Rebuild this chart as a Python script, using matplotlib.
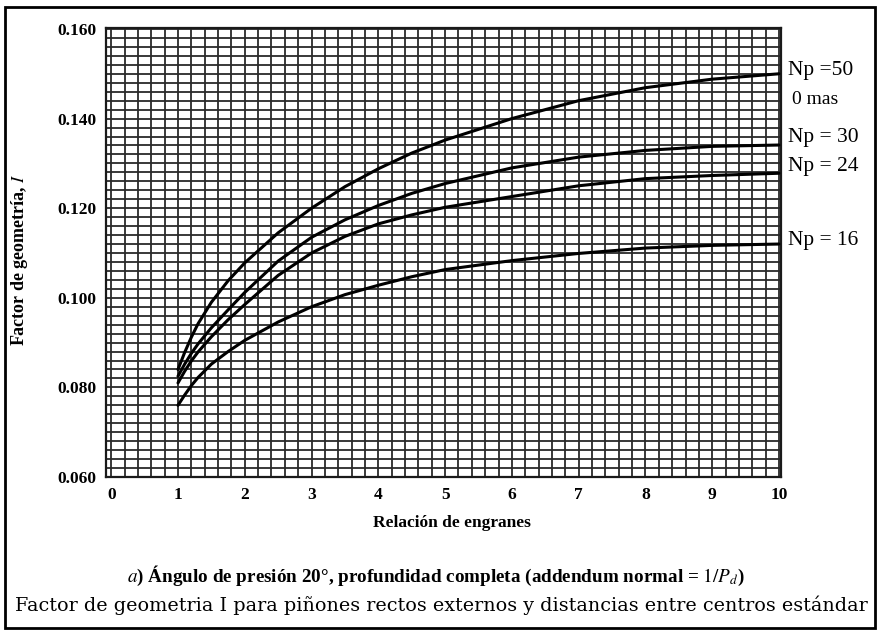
import numpy as np
import matplotlib
matplotlib.use("Agg")
import matplotlib.pyplot as plt
from matplotlib.patches import Rectangle

plt.rcParams["font.family"] = ["Liberation Serif", "DejaVu Serif"]
plt.rcParams["mathtext.fontset"] = "stix"

ratio = [1.0, 1.1, 1.2, 1.3, 1.5, 1.75, 2.0, 2.5, 3.0, 3.5, 4.0, 4.5, 5.0, 6.0, 7.0, 8.0, 9.0, 10.0]
np50 = [0.0840, 0.0878, 0.0912, 0.0942, 0.0990, 0.1038, 0.1078, 0.1145, 0.1200, 0.1248, 0.1288,
        0.1323, 0.1352, 0.1400, 0.1440, 0.1469, 0.1488, 0.1500]
np30 = [0.0825, 0.0852, 0.0876, 0.0897, 0.0933, 0.0973, 0.1012, 0.1082, 0.1135, 0.1174, 0.1206,
        0.1233, 0.1255, 0.1290, 0.1314, 0.1329, 0.1338, 0.1341]
np24 = [0.0810, 0.0836, 0.0859, 0.0879, 0.0913, 0.0951, 0.0985, 0.1050, 0.1100, 0.1137, 0.1165,
        0.1185, 0.1202, 0.1226, 0.1250, 0.1266, 0.1273, 0.1278]
np16 = [0.0760, 0.0783, 0.0804, 0.0822, 0.0852, 0.0880, 0.0905, 0.0946, 0.0980, 0.1007, 0.1028,
        0.1047, 0.1063, 0.1083, 0.1099, 0.1111, 0.1117, 0.1120]

curves = [np50, np30, np24, np16]
curve_labels = ["Np =50", "Np = 30", "Np = 24", "Np = 16"]

x_ticks = list(range(0, 11))
y_ticks = [0.060, 0.080, 0.100, 0.120, 0.140, 0.160]

W, H = 880, 631
fig = plt.figure(figsize=(W / 100, H / 100), dpi=100)

left, right, top, bottom = 106, 781, 28, 477
ax = fig.add_axes([left / W, 1 - bottom / H, (right - left) / W, (bottom - top) / H])
ax.set_xlim(-0.078, 10.03)
ax.set_ylim(0.060, 0.16022)

# fine graph-paper grid
for gx in np.arange(0, 10.01, 0.2):
    ax.axvline(gx, color="#2a2a2a", lw=1.3, zorder=1)
for gy in np.arange(0.060, 0.1601, 0.002):
    ax.axhline(gy, color="#2a2a2a", lw=1.3, zorder=1)

for vals in curves:
    ax.plot(ratio, vals, color="black", lw=2.2, zorder=3,
            solid_capstyle="round", solid_joinstyle="round")

for spine in ax.spines.values():
    spine.set_linewidth(1.6)
    spine.set_color("#1a1a1a")

ax.set_xticks(x_ticks)
ax.set_xticklabels([str(t) for t in x_ticks], fontsize=12.5, fontweight="bold")
ax.set_yticks(y_ticks)
ax.set_yticklabels([f"{t:.3f}" for t in y_ticks], fontsize=12.5, fontweight="bold")
ax.tick_params(length=0, pad=7)

# curve labels on the right
label_pos = [(788, 70), (788, 137), (788, 167), (788, 241)]
for (px, py), txt in zip(label_pos, curve_labels):
    fig.text(px / W, 1 - py / H, txt, fontsize=15.5, va="center", ha="left")
fig.text(792 / W, 1 - 100 / H, "0 mas", fontsize=14, va="center", ha="left")

fig.text(20 / W, 1 - 260 / H, "Factor de geometría, $I$", rotation=90,
         fontsize=13, fontweight="bold", va="center", ha="center")
fig.text(452 / W, 1 - 523 / H, "Relación de engranes", fontsize=12.5,
         fontweight="bold", va="center", ha="center")
fig.text(436 / W, 1 - 576 / H,
         "$a$) Ángulo de presión 20°, profundidad completa (addendum normal = $1/P_d$)",
         fontsize=13.8, fontweight="bold", va="center", ha="center")
fig.text(441 / W, 1 - 605 / H,
         "Factor de geometria I para piñones rectos externos y distancias entre centros estándar",
         fontsize=13.8, family=["DejaVu Serif"], va="center", ha="center")

fig.patches.append(Rectangle((5 / W, 1 - 628 / H), 870 / W, 621 / H,
                             transform=fig.transFigure, fill=False,
                             edgecolor="black", lw=2))

fig.savefig("out.png", dpi=100)
